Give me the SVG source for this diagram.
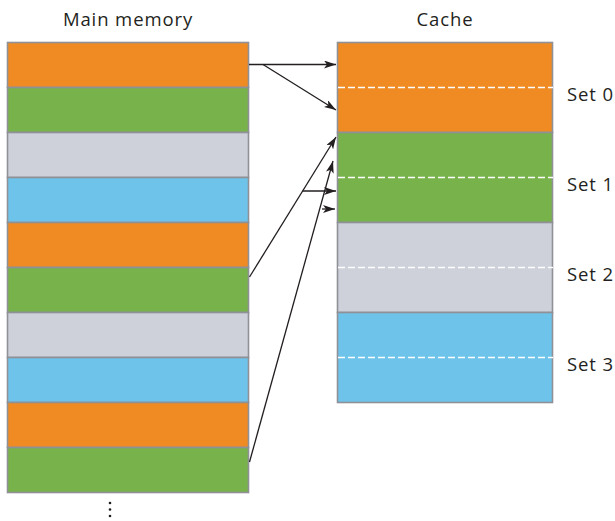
<svg xmlns="http://www.w3.org/2000/svg" width="615" height="521" viewBox="0 0 615 521">
<style>
.lbl{font-family:"Open Sans","Noto Sans",sans-serif;font-size:18.5px;letter-spacing:0.9px;fill:#231f20}
.blk{stroke:#8f9196;stroke-width:1.6}
.o{fill:#ef8b22}.g{fill:#77b34a}.s{fill:#ced0da}.b{fill:#6dc3ea}
.dash{stroke:#fff;stroke-width:1.3;stroke-dasharray:7,3}
.ln{stroke:#231f20;stroke-width:1.3;fill:none}
</style>
<defs>
<marker id="ah" viewBox="0 0 12 8" refX="12" refY="4" markerWidth="12" markerHeight="8" markerUnits="userSpaceOnUse" orient="auto">
<path d="M0,0 L12,4 L0,8 L3,4 Z" fill="#231f20"/>
</marker>
</defs>
<rect width="615" height="521" fill="#fff"/>
<text class="lbl" x="128" y="26" text-anchor="middle">Main memory</text>
<text class="lbl" x="445" y="26" text-anchor="middle">Cache</text>
<g id="main-memory">
<rect class="blk o" x="7.5" y="42.5" width="241" height="45"/>
<rect class="blk g" x="7.5" y="87.5" width="241" height="45"/>
<rect class="blk s" x="7.5" y="132.5" width="241" height="45"/>
<rect class="blk b" x="7.5" y="177.5" width="241" height="45"/>
<rect class="blk o" x="7.5" y="222.5" width="241" height="45"/>
<rect class="blk g" x="7.5" y="267.5" width="241" height="45"/>
<rect class="blk s" x="7.5" y="312.5" width="241" height="45"/>
<rect class="blk b" x="7.5" y="357.5" width="241" height="45"/>
<rect class="blk o" x="7.5" y="402.5" width="241" height="45"/>
<rect class="blk g" x="7.5" y="447.5" width="241" height="45"/>
</g>
<g id="ellipsis" fill="#231f20">
<circle cx="110" cy="503" r="1.3"/>
<circle cx="110" cy="509.5" r="1.3"/>
<circle cx="110" cy="516" r="1.3"/>
</g>
<g id="cache">
<rect class="blk o" x="337.5" y="42.5" width="215" height="90"/>
<rect class="blk g" x="337.5" y="132.5" width="215" height="90"/>
<rect class="blk s" x="337.5" y="222.5" width="215" height="90"/>
<rect class="blk b" x="337.5" y="312.5" width="215" height="90"/>
<line class="dash" x1="338" y1="87.5" x2="553" y2="87.5"/>
<line class="dash" x1="338" y1="177.5" x2="553" y2="177.5"/>
<line class="dash" x1="338" y1="267.5" x2="553" y2="267.5"/>
<line class="dash" x1="338" y1="357.5" x2="553" y2="357.5"/>
</g>
<g id="set-labels">
<text class="lbl" x="567" y="101">Set 0</text>
<text class="lbl" x="567" y="191">Set 1</text>
<text class="lbl" x="567" y="281">Set 2</text>
<text class="lbl" x="567" y="371">Set 3</text>
</g>
<g id="connectors">
<line class="ln" x1="249" y1="64.5" x2="336" y2="64.5" marker-end="url(#ah)"/>
<line class="ln" x1="263" y1="64.5" x2="336" y2="110" marker-end="url(#ah)"/>
<line class="ln" x1="249.5" y1="277" x2="336" y2="137" marker-end="url(#ah)"/>
<line class="ln" x1="302.5" y1="191" x2="336" y2="191" marker-end="url(#ah)"/>
<line class="ln" x1="249.5" y1="462" x2="333" y2="161" marker-end="url(#ah)"/>
<line class="ln" x1="322" y1="209" x2="335" y2="209" marker-end="url(#ah)"/>
</g>
</svg>
